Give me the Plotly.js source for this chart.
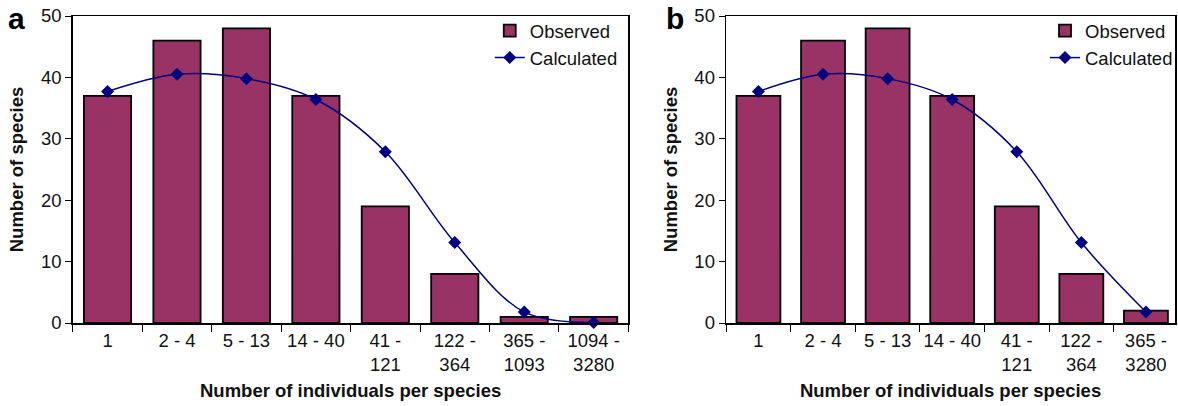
<!DOCTYPE html>
<html>
<head>
<meta charset="utf-8">
<script src="https://cdn.plot.ly/plotly-3.0.1.min.js"></script>
<style>
  html, body { margin: 0; padding: 0; background: #fff; }
  #chart { width: 1178px; height: 406px; }
</style>
</head>
<body>
<div id="chart"></div>
<script>
  // panel a: 8 abundance classes
  var categoriesA = ['1', '2 - 4', '5 - 13', '14 - 40', '41 -<br>121', '122 -<br>364', '365 -<br>1093', '1094 -<br>3280'];
  var observedA = [37, 46, 48, 37, 19, 8, 1, 1];
  var calculatedA = [37.7, 40.5, 39.8, 36.4, 27.9, 13.1, 1.8, 0.1];

  // panel b: last two classes merged
  var categoriesB = ['1', '2 - 4', '5 - 13', '14 - 40', '41 -<br>121', '122 -<br>364', '365 -<br>3280'];
  var observedB = [37, 46, 48, 37, 19, 8, 2];
  var calculatedB = [37.7, 40.5, 39.8, 36.4, 27.9, 13.1, 1.8];

  var yTicks = [0, 10, 20, 30, 40, 50];

  var W = 1178, H = 406;
  var barColor = '#993366';
  var lineColor = '#000080';
  var fontFamily = '"Liberation Sans", Arial, sans-serif';
  var fs = 18.5;

  function bars(cats, vals, xa, ya, legend) {
    return {
      type: 'bar', name: 'Observed', x: cats, y: vals,
      xaxis: xa, yaxis: ya, legend: legend,
      marker: { color: barColor, line: { color: '#000', width: 1.8 } },
      hoverinfo: 'x+y'
    };
  }

  function curve(cats, vals, xa, ya, legend) {
    return {
      type: 'scatter', mode: 'lines+markers', name: 'Calculated', x: cats, y: vals,
      xaxis: xa, yaxis: ya, legend: legend, cliponaxis: false,
      line: { color: lineColor, width: 1.5, shape: 'spline', smoothing: 1 },
      marker: { color: lineColor, symbol: 'diamond', size: 10 }
    };
  }

  function xAxis(domain, anchor, n, rangeEnd) {
    return {
      domain: domain, anchor: anchor,
      range: [-0.5, rangeEnd != null ? rangeEnd : n - 0.5],
      showline: true, linecolor: '#000', linewidth: 1.5, mirror: true,
      ticks: 'outside', tickson: 'boundaries', ticklen: 7, tickcolor: '#000', tickwidth: 1,
      tickangle: 0,
      showgrid: false, zeroline: false, fixedrange: true,
      tickfont: { family: fontFamily, size: fs, color: '#111' },
      title: {
        text: '<b>Number of individuals per species</b>', standoff: 10,
        font: { family: fontFamily, size: fs, color: '#111' }
      }
    };
  }

  function yAxis(domain, anchor) {
    return {
      domain: domain, anchor: anchor, range: [0, 50],
      tickvals: yTicks, ticktext: yTicks.map(String),
      showline: true, linecolor: '#000', linewidth: 1.5, mirror: true,
      ticks: 'outside', ticklen: 6, tickcolor: '#000', tickwidth: 1,
      showgrid: false, zeroline: false, fixedrange: true,
      tickfont: { family: fontFamily, size: fs, color: '#111' },
      title: {
        text: '<b>Number of species</b>', standoff: 12,
        font: { family: fontFamily, size: fs, color: '#111' }
      }
    };
  }

  var yDom = [1 - 323 / H, 1 - 16 / H];

  var data = [
    bars(categoriesA, observedA, 'x', 'y', 'legend'),
    curve(categoriesA, calculatedA, 'x', 'y', 'legend'),
    bars(categoriesB, observedB, 'x2', 'y2', 'legend2'),
    curve(categoriesB, calculatedB, 'x2', 'y2', 'legend2')
  ];

  function legendBox(x) {
    return {
      x: x, y: 1 - 12 / H, xanchor: 'left', yanchor: 'top',
      bgcolor: 'rgba(0,0,0,0)', borderwidth: 0,
      font: { family: fontFamily, size: fs, color: '#111' },
      tracegroupgap: 0, itemwidth: 30
    };
  }

  var layout = {
    width: W, height: H,
    margin: { l: 0, r: 0, t: 0, b: 0 },
    paper_bgcolor: '#fff', plot_bgcolor: '#fff',
    font: { family: fontFamily, color: '#111' },
    bargap: 0.32,
    showlegend: true,
    xaxis: xAxis([73 / W, 630 / W], 'y', categoriesA.length),
    yaxis: yAxis(yDom, 'x'),
    xaxis2: xAxis([728 / W, 1], 'y2', categoriesB.length, 6.45),
    yaxis2: yAxis(yDom, 'x2'),
    legend: legendBox(491 / W),
    legend2: legendBox(1048 / W),
    annotations: [
      { text: '<b>a</b>', xref: 'paper', yref: 'paper', x: 6 / W, y: 1 - 0 / H,
        xanchor: 'left', yanchor: 'top', showarrow: false,
        font: { family: fontFamily, size: 30, color: '#000' } },
      { text: '<b>b</b>', xref: 'paper', yref: 'paper', x: 666 / W, y: 1 - 0 / H,
        xanchor: 'left', yanchor: 'top', showarrow: false,
        font: { family: fontFamily, size: 30, color: '#000' } }
    ]
  };

  Plotly.newPlot('chart', data, layout, { displayModeBar: false, staticPlot: true });
</script>
</body>
</html>
